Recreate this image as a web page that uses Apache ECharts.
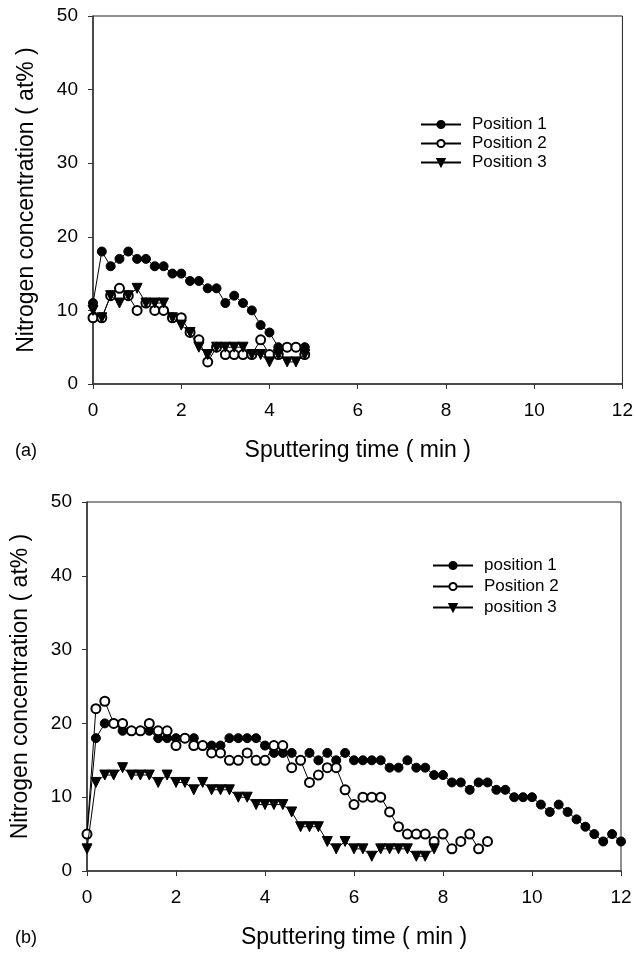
<!DOCTYPE html>
<html><head><meta charset="utf-8">
<script src="https://cdn.jsdelivr.net/npm/echarts@6/dist/echarts.min.js"></script>
<style>html,body{margin:0;padding:0;background:#fff}#c{width:636px;height:954px}</style>
</head><body><div id="c"></div><script>
// ---- Panel (a) ----
const timeA = [0,0.2,0.4,0.6,0.8,1.0,1.2,1.4,1.6,1.8,2.0,2.2,2.4,2.6,2.8,3.0,3.2,3.4,3.6,3.8,4.0,4.2,4.4,4.6,4.8];
const a_pos1 = [11,18,16,17,18,17,17,16,16,15,15,14,14,13,13,11,12,11,10,8,7,5,5,5,5];
const a_pos2 = [9,9,12,13,12,10,11,10,10,9,9,7,6,3,5,4,4,4,4,6,4,4,5,5,4];
const a_pos3 = [10,9,12,11,12,13,11,11,11,9,8,7,5,4,5,5,5,5,4,4,3,4,3,3,4];
const namesA = ['Position 1','Position 2','Position 3'];

// ---- Panel (b) ----
const timeB = [0,0.2,0.4,0.6,0.8,1.0,1.2,1.4,1.6,1.8,2.0,2.2,2.4,2.6,2.8,3.0,3.2,3.4,3.6,3.8,4.0,4.2,4.4,4.6,4.8,5.0,5.2,5.4,5.6,5.8,6.0,6.2,6.4,6.6,6.8,7.0,7.2,7.4,7.6,7.8,8.0,8.2,8.4,8.6,8.8,9.0,9.2,9.4,9.6,9.8,10.0,10.2,10.4,10.6,10.8,11.0,11.2,11.4,11.6,11.8,12.0];
const b_pos1 = [5,18,20,20,19,19,19,19,18,18,18,18,18,17,17,17,18,18,18,18,17,16,16,16,15,16,15,16,15,16,15,15,15,15,14,14,15,14,14,13,13,12,12,11,12,12,11,11,10,10,10,9,8,9,8,7,6,5,4,5,4];
const b_pos2 = [5,22,23,20,20,19,19,20,19,19,17,18,17,17,16,16,15,15,16,15,15,17,17,14,15,12,13,14,14,11,9,10,10,10,8,6,5,5,5,4,5,3,4,5,3,4];
const b_pos3 = [3,12,13,13,14,13,13,13,12,13,12,12,11,12,11,11,11,10,10,9,9,9,9,8,6,6,6,4,3,4,3,3,2,3,3,3,3,2,2,3];
const namesB = ['position 1','Position 2','position 3'];

const xTicks = [0,2,4,6,8,10,12];
const yTicks = [0,10,20,30,40,50];

const FONT = 'Liberation Sans, Arial, sans-serif';
const pairs = (t, v) => v.map((y, i) => [t[i], y]);

function xAxis(gi) {
  return {
    type: 'value', gridIndex: gi, min: xTicks[0], max: xTicks[xTicks.length-1], interval: 2,
    name: 'Sputtering time ( min )', nameLocation: 'middle', nameGap: 55,
    nameTextStyle: { fontFamily: FONT, fontSize: 23, color: '#000' },
    axisLine: { show: true, onZero: false, lineStyle: { color: '#333', width: 1.5 } },
    axisTick: { show: true, inside: false, length: 5, lineStyle: { color: '#333' } },
    axisLabel: { fontFamily: FONT, fontSize: 19, color: '#000', margin: 17 },
    splitLine: { show: false }
  };
}
function yAxis(gi) {
  return {
    type: 'value', gridIndex: gi, min: yTicks[0], max: yTicks[yTicks.length-1], interval: 10,
    name: 'Nitrogen concentration ( at% )', nameLocation: 'middle', nameGap: 55,
    nameTextStyle: { fontFamily: FONT, fontSize: 23, color: '#000' },
    axisLine: { show: true, onZero: false, lineStyle: { color: '#333', width: 1.5 } },
    axisTick: { show: true, inside: false, length: 5, lineStyle: { color: '#333' } },
    axisLabel: { fontFamily: FONT, fontSize: 19, color: '#000', margin: 15 },
    splitLine: { show: false }
  };
}
const styles = [
  { symbol: 'circle', symbolSize: 9, symbolRotate: 0 },
  { symbol: 'emptyCircle', symbolSize: 9, symbolRotate: 0 },
  { symbol: 'triangle', symbolSize: 10, symbolRotate: 180 }
];
function ser(name, t, v, gi, k) {
  return {
    type: 'line', name: name, xAxisIndex: gi, yAxisIndex: gi,
    data: pairs(t, v), symbol: styles[k].symbol, symbolSize: styles[k].symbolSize,
    symbolRotate: styles[k].symbolRotate, showAllSymbol: true,
    lineStyle: { color: '#000', width: 1 },
    itemStyle: { color: '#000', borderColor: '#000', borderWidth: 1 },
    emphasis: { disabled: true }, animation: false, z: 2 + k
  };
}
function legend(names, left, top, gap) {
  return {
    data: names, orient: 'vertical', left: left, top: top, padding: 0,
    itemWidth: 40, itemHeight: 9, itemGap: gap, selectedMode: false,
    textStyle: { fontFamily: FONT, fontSize: 17, color: '#000', padding: [0, 0, 0, 6] }
  };
}

const chart = echarts.init(document.getElementById('c'), null, { renderer: 'canvas' });
chart.setOption({
  animation: false,
  backgroundColor: '#fff',
  grid: [
    { left: 93, top: 16, width: 532, height: 368, show: true, borderColor: '#222', borderWidth: 1, backgroundColor: 'transparent' },
    { left: 87, top: 502, width: 534, height: 369, show: true, borderColor: '#222', borderWidth: 1, backgroundColor: 'transparent' }
  ],
  xAxis: [xAxis(0), xAxis(1)],
  yAxis: [yAxis(0), yAxis(1)],
  legend: [legend(namesA, 420, 116, 2), legend(namesB, 432, 557, 4)],
  graphic: [
    { type: 'text', left: 15, top: 442, style: { text: '(a)', fontFamily: FONT, fontSize: 18, fill: '#000' } },
    { type: 'text', left: 15, top: 929, style: { text: '(b)', fontFamily: FONT, fontSize: 18, fill: '#000' } }
  ],
  series: [
    ser(namesA[0], timeA, a_pos1, 0, 0),
    ser(namesA[1], timeA, a_pos2, 0, 1),
    ser(namesA[2], timeA, a_pos3, 0, 2),
    ser(namesB[0], timeB, b_pos1, 1, 0),
    ser(namesB[1], timeB, b_pos2, 1, 1),
    ser(namesB[2], timeB, b_pos3, 1, 2)
  ]
});
</script></body></html>
